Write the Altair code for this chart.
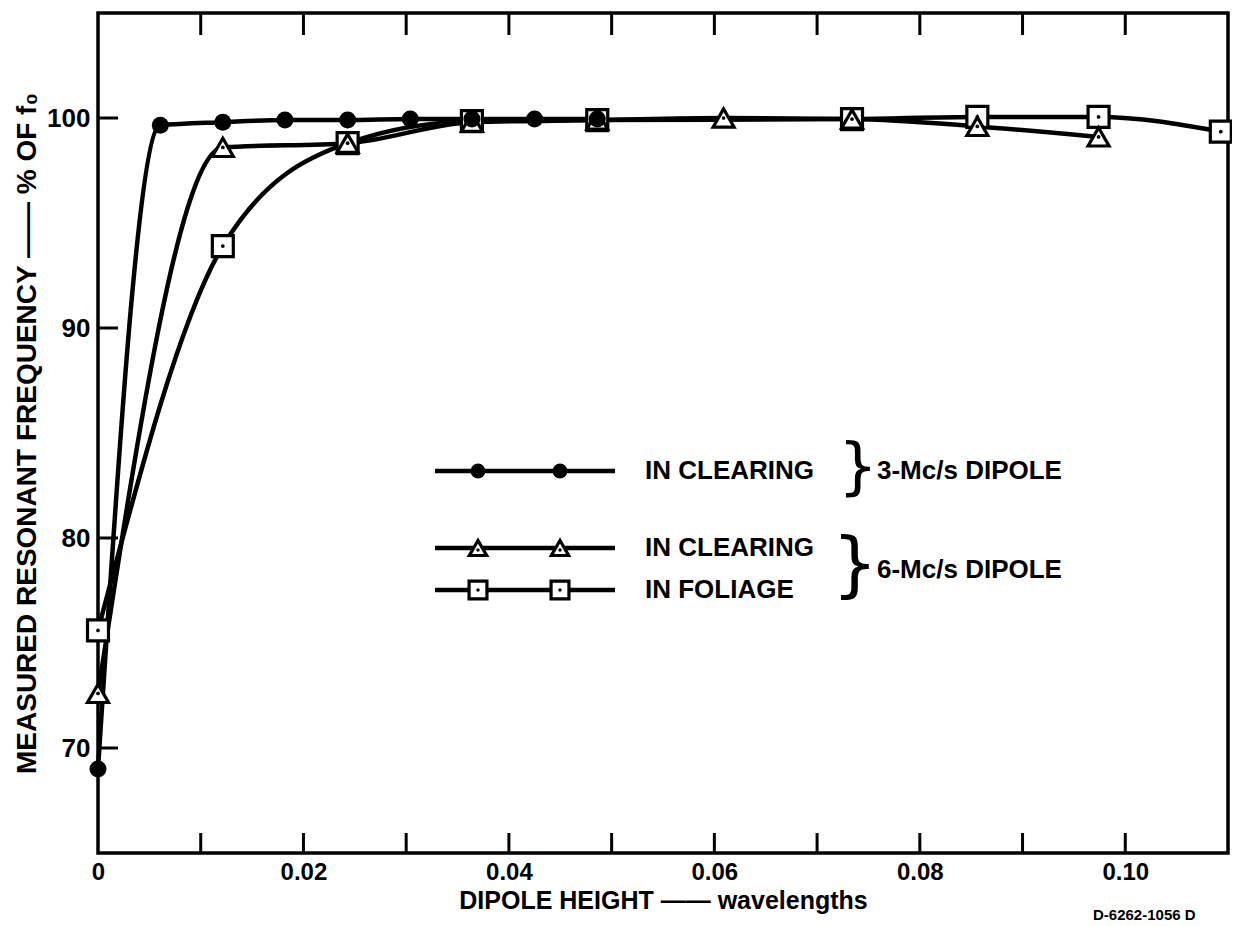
import altair as alt
import pandas as pd

# ---------------- data ----------------
# 3-Mc/s dipole, in clearing (filled circles)
x_3mc_clearing = [0.0, 0.00607, 0.01215, 0.0182, 0.0243, 0.0304, 0.0364, 0.0425, 0.0486]
y_3mc_clearing = [69.0, 99.65, 99.8, 99.9, 99.9, 99.95, 99.95, 99.95, 99.95]

# 6-Mc/s dipole, in clearing (open triangles)
x_6mc_clearing = [0.0, 0.01215, 0.0243, 0.0364, 0.0486, 0.0609, 0.0734, 0.0856, 0.0974]
y_6mc_clearing = [72.6, 98.6, 98.8, 99.8, 99.9, 100.0, 99.95, 99.6, 99.1]

# 6-Mc/s dipole, in foliage (open squares)
x_6mc_foliage = [0.0, 0.01215, 0.0243, 0.0364, 0.0486, 0.0734, 0.0856, 0.0974, 0.1093]
y_6mc_foliage = [75.6, 93.9, 98.8, 99.85, 99.9, 99.95, 100.05, 100.05, 99.35]

x_tick_values = [0.01, 0.02, 0.03, 0.04, 0.05, 0.06, 0.07, 0.08, 0.09, 0.10]
x_label_values = [0.0, 0.02, 0.04, 0.06, 0.08, 0.10]
y_label_values = [70, 80, 90, 100]

legend_labels = ["IN CLEARING", "IN CLEARING", "IN FOLIAGE"]
group_labels = ["3-Mc/s DIPOLE", "6-Mc/s DIPOLE"]
x_title = "DIPOLE HEIGHT —— wavelengths"
y_title = "MEASURED RESONANT FREQUENCY —— % OF f₀"
drawing_number = "D-6262-1056 D"

# ---------------- layout ----------------
FONT = "Liberation Sans"
W, H = 1130, 840
xscale = alt.Scale(domain=[0, 0.11], nice=False, zero=False)
yscale = alt.Scale(domain=[65, 105], nice=False, zero=False)

x_axis = alt.Axis(
    values=x_label_values, ticks=False, domain=False, grid=False,
    labelExpr="datum.value == 0 ? '0' : format(datum.value, '.2f')",
    labelFont=FONT, labelFontWeight="bold", labelFontSize=24, labelColor="black",
    labelPadding=7, labelFlush=False, labelOverlap=False,
    title=x_title, titleFont=FONT, titleFontWeight="bold", titleFontSize=25,
    titleColor="black", titlePadding=4,
)
y_axis = alt.Axis(
    values=y_label_values, ticks=False, domain=False, grid=False,
    labelFont=FONT, labelFontWeight="bold", labelFontSize=26, labelColor="black",
    labelPadding=8, labelOverlap=False,
    title=y_title, titleFont=FONT, titleFontWeight="bold", titleFontSize=28,
    titleColor="black", titlePadding=5,
)


def X(field="x"):
    return alt.X(f"{field}:Q", scale=xscale, axis=x_axis)


def Y(field="y"):
    return alt.Y(f"{field}:Q", scale=yscale, axis=y_axis)


df_c = pd.DataFrame({"x": x_3mc_clearing, "y": y_3mc_clearing})
df_t = pd.DataFrame({"x": x_6mc_clearing, "y": y_6mc_clearing})
df_s = pd.DataFrame({"x": x_6mc_foliage, "y": y_6mc_foliage})
df_xt = pd.DataFrame({"x": x_tick_values})
df_yt = pd.DataFrame({"y": y_label_values})
one = pd.DataFrame({"a": [0]})

layers = []

# inward ticks
layers.append(alt.Chart(df_xt).mark_rule(color="black", strokeWidth=3).encode(
    x=X(), y=alt.value(H), y2=alt.value(H - 20)))
layers.append(alt.Chart(df_xt).mark_rule(color="black", strokeWidth=3).encode(
    x=X(), y=alt.value(0), y2=alt.value(22)))
layers.append(alt.Chart(df_yt).mark_rule(color="black", strokeWidth=3).encode(
    y=Y(), x=alt.value(0), x2=alt.value(20)))

# curves
for d in (df_s, df_t, df_c):
    layers.append(alt.Chart(d).mark_line(interpolate="monotone", color="black",
                                         strokeWidth=4.5).encode(x=X(), y=Y()))

# markers
def open_marker(d, shape, size):
    return [
        alt.Chart(d).mark_point(shape=shape, filled=True, fill="white", stroke="black",
                                strokeWidth=3.2, size=size, opacity=1).encode(x=X(), y=Y()),
        alt.Chart(d).mark_point(shape="circle", filled=True, color="black", size=14,
                                opacity=1).encode(x=X(), y=Y()),
    ]

layers += open_marker(df_s, "square", 440)
layers += open_marker(df_t, "triangle-up", 440)
layers.append(alt.Chart(df_c).mark_point(shape="circle", filled=True, color="black",
                                         size=290, opacity=1).encode(x=X(), y=Y()))

# ---------------- legend (drawn inside the plot) ----------------
rows = [(458, "circle"), (535, "triangle-up"), (577, "square")]
for (ypx, shape), label in zip(rows, legend_labels):
    layers.append(alt.Chart(one).mark_rule(color="black", strokeWidth=4.5).encode(
        x=alt.value(337), x2=alt.value(517), y=alt.value(ypx)))
    for xpx in (380, 462):
        if shape == "circle":
            layers.append(alt.Chart(one).mark_point(shape="circle", filled=True, color="black",
                                                    size=220, opacity=1).encode(
                x=alt.value(xpx), y=alt.value(ypx)))
        else:
            layers.append(alt.Chart(one).mark_point(
                shape=shape, filled=True, fill="white", stroke="black", strokeWidth=3.2,
                size=320 if shape == "square" else 300, opacity=1).encode(
                x=alt.value(xpx), y=alt.value(ypx)))
            layers.append(alt.Chart(one).mark_point(shape="circle", filled=True, color="black",
                                                    size=12, opacity=1).encode(
                x=alt.value(xpx), y=alt.value(ypx + (2 if shape == "triangle-up" else 0))))
    layers.append(alt.Chart(one).mark_text(
        text=label, align="left", baseline="middle", font=FONT, fontWeight="bold",
        fontSize=26, color="black").encode(x=alt.value(547), y=alt.value(ypx)))

# braces and group labels
layers.append(alt.Chart(one).mark_text(
    text="}", align="center", baseline="middle", font="DejaVu Sans", fontSize=62,
    color="black").encode(x=alt.value(760), y=alt.value(455)))
layers.append(alt.Chart(one).mark_text(
    text="}", align="center", baseline="middle", font="DejaVu Sans", fontSize=72,
    color="black").encode(x=alt.value(757), y=alt.value(553)))
layers.append(alt.Chart(one).mark_text(
    text=group_labels[0], align="left", baseline="middle", font=FONT, fontWeight="bold",
    fontSize=26, color="black").encode(x=alt.value(779), y=alt.value(458)))
layers.append(alt.Chart(one).mark_text(
    text=group_labels[1], align="left", baseline="middle", font=FONT, fontWeight="bold",
    fontSize=26, color="black").encode(x=alt.value(779), y=alt.value(557)))

# drawing number at the bottom right
layers.append(alt.Chart(one).mark_text(
    text=drawing_number, align="left", baseline="top", font=FONT, fontWeight="bold",
    fontSize=15, color="black").encode(x=alt.value(995), y=alt.value(895)))

chart = alt.layer(*layers).properties(
    width=W, height=H,
    autosize=alt.AutoSizeParams(type="none"),
    padding={"left": 90, "top": 5, "right": 4, "bottom": 72},
    background="white",
).configure_view(stroke="black", strokeWidth=3.5)

chart.save("out.html", embed_options={"renderer": "svg", "actions": False})
